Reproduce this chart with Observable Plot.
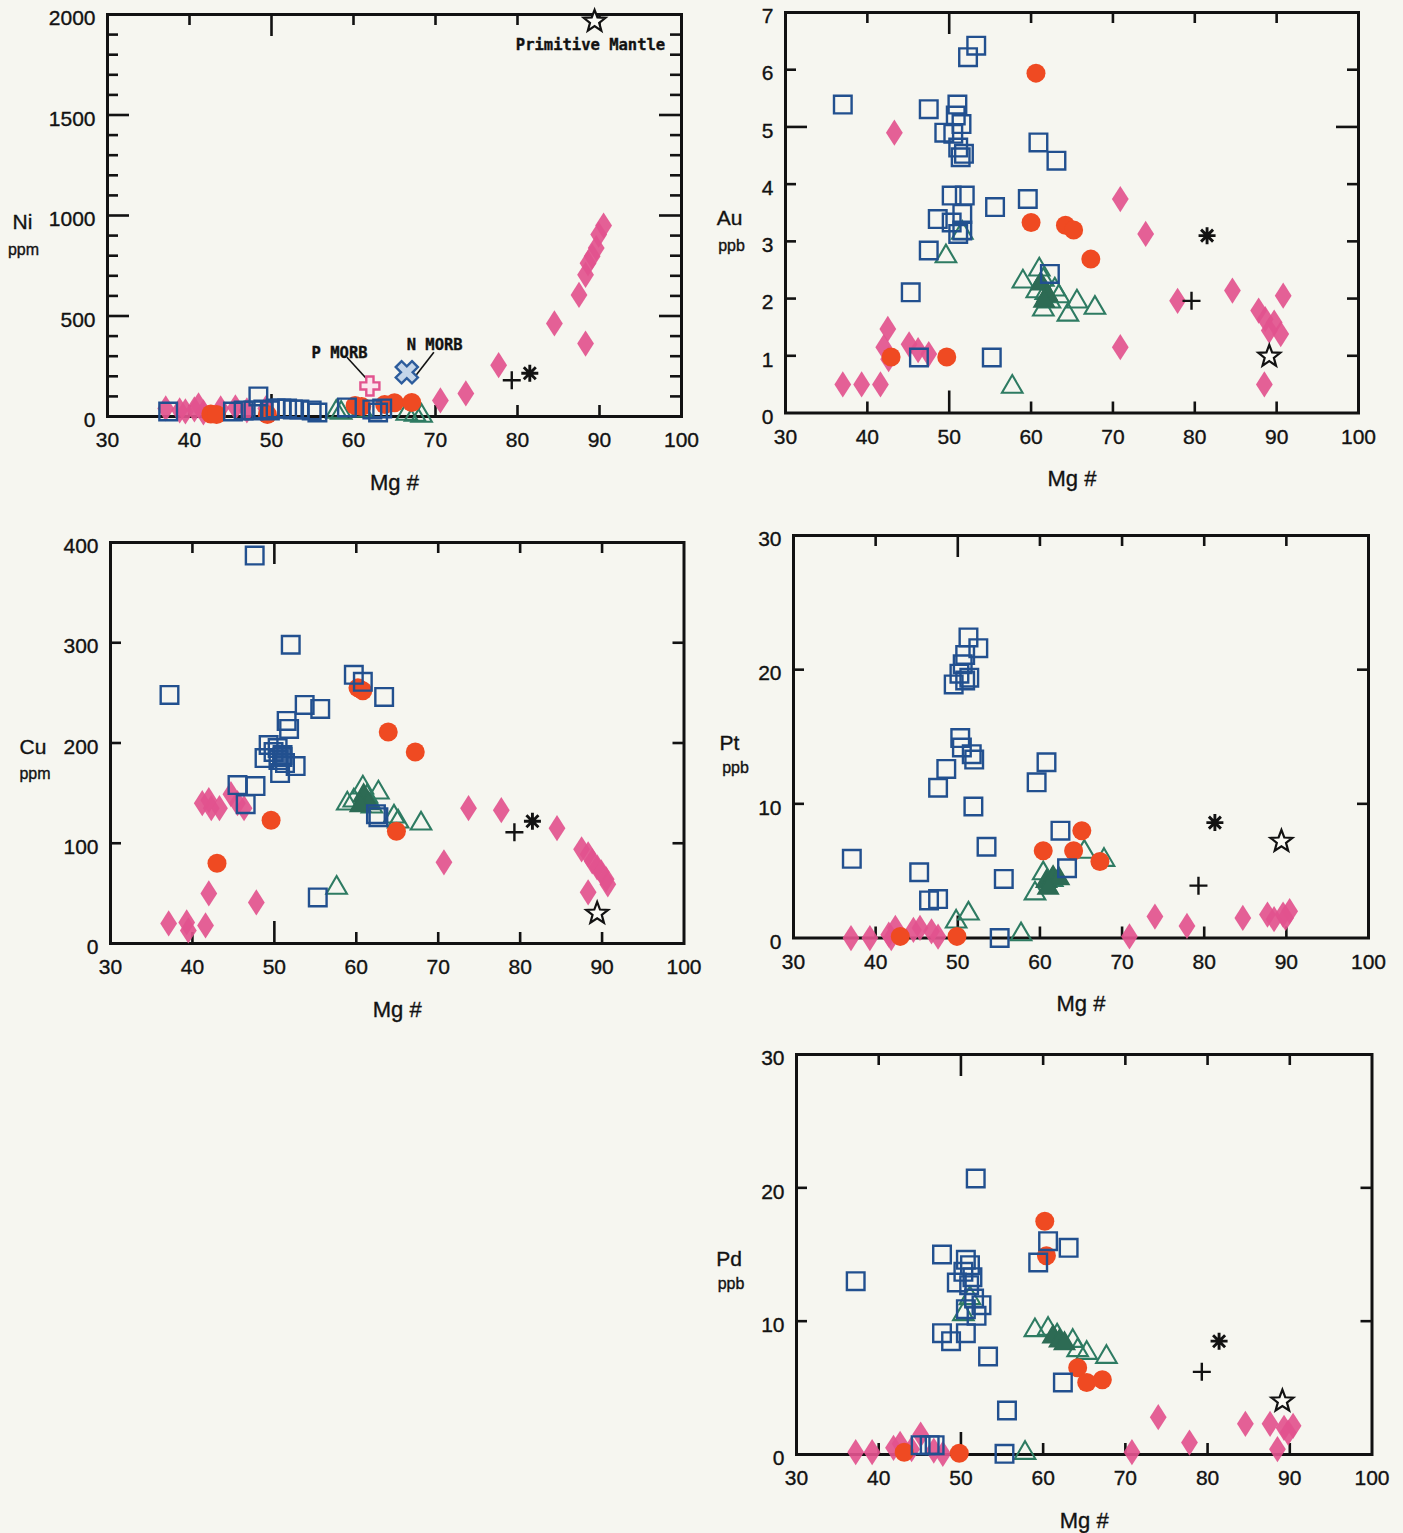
<!DOCTYPE html>
<html><head><meta charset="utf-8">
<script src="https://cdn.jsdelivr.net/npm/d3@7"></script>
<script src="https://cdn.jsdelivr.net/npm/@observablehq/plot@0.6"></script>
<style>
html,body{margin:0;padding:0}
body{background:#f6f6f0;width:1403px;height:1533px;position:relative;overflow:hidden;font-family:"Liberation Sans",Arial,sans-serif}
.panel{position:absolute}
.panel svg text{paint-order:stroke;stroke:#121212;stroke-width:0.35px}
</style></head>
<body>
<script>
// ---------- DATA (Mg#, value) ----------
const xTickLabels = [30, 40, 50, 60, 70, 80, 90, 100];

// Ni (ppm)
const niDiamond = [[37.1,40],[38.8,30],[39.5,25],[40.6,35],[41.1,55],[41.7,20],[43.8,40],[45.6,45],[47.0,30],[49.3,40],[70.6,80],[73.7,115],[77.7,255],[84.5,463],[87.5,605],[88.3,705],[88.3,363],[88.6,763],[89.1,797],[89.6,838],[89.9,905],[90.5,950]];
const niCircle = [[42.6,12],[43.3,10],[49.5,10],[60.2,55],[61.0,50],[63.8,60],[65.0,68],[67.1,70]];
const niSquare = [[37.4,25],[45.3,25],[46.6,30],[47.8,30],[48.4,100],[49.0,35],[49.8,30],[50.5,40],[51.2,40],[51.9,40],[52.6,35],[53.4,35],[54.9,30],[55.6,20],[59.2,45],[62.3,35],[63.0,20],[63.5,40]];
const niTriangle = [[57.9,35],[58.5,30],[61.0,40],[66.5,25],[67.5,20],[68.3,15]];
const niTriFilled = [];
const niPlus = [[79.3,180]];
const niAsterisk = [[81.5,215]];
const niStar = [[89.4,1966]];
const niPMorb = [[62.0,152]];
const niNMorb = [[66.5,220]];
const niNotes = [{text:"Primitive Mantle", mg:88.9, v:1850},{text:"P MORB", mg:58.3, v:318},{text:"N MORB", mg:69.9, v:356}];
const niLeaders = [{mg1:59.2, v1:295, mg2:61.7, v2:183},{mg1:69.8, v1:320, mg2:67.6, v2:204}];

// Au (ppb)
const auDiamond = [[43.3,4.9],[37.0,0.5],[39.3,0.5],[41.6,0.5],[42.5,1.47],[42.0,1.15],[42.6,0.94],[45.1,1.2],[46.2,1.1],[47.5,1.03],[70.9,3.74],[74.0,3.13],[70.9,1.15],[77.9,1.96],[84.6,2.14],[87.8,1.79],[88.6,1.64],[89.7,1.58],[90.8,2.05],[90.5,1.38],[89.1,1.44],[88.5,0.5]];
const auCircle = [[60.6,5.94],[60.0,3.33],[64.2,3.28],[65.2,3.2],[67.3,2.69],[42.9,0.98],[49.7,0.98]];
const auSquare = [[37.0,5.39],[47.5,5.31],[52.3,6.22],[53.3,6.42],[51.0,5.39],[50.8,5.2],[49.4,4.9],[50.5,4.88],[51.5,5.05],[51.1,4.64],[51.4,4.47],[51.8,4.53],[60.9,4.73],[63.1,4.41],[50.3,3.8],[51.9,3.8],[51.6,3.48],[50.3,3.33],[51.6,3.19],[51.1,3.13],[48.6,3.39],[47.5,2.84],[55.6,3.6],[59.6,3.74],[62.3,2.43],[45.3,2.11],[46.3,0.97],[55.2,0.97]];
const auTriangle = [[49.6,2.78],[51.6,3.19],[57.7,0.5],[59.0,2.34],[61.0,2.55],[61.5,2.37],[60.7,2.17],[61.8,2.14],[62.3,1.99],[61.5,1.85],[63.4,2.08],[65.6,1.99],[64.5,1.76],[67.8,1.88],[62.9,2.2]];
const auTriFilled = [[61.2,2.3],[62.0,2.1],[61.6,2.0]];
const auPlus = [[79.6,1.96]];
const auAsterisk = [[81.5,3.1]];
const auStar = [[89.1,0.99]];

// Cu (ppm)
const cuDiamond = [[41.2,140],[42.3,135],[43.3,135],[42.0,143],[44.7,149],[45.5,140],[46.3,135],[42.0,50],[47.8,41],[37.1,20],[39.3,21],[39.5,13],[41.6,18],[70.7,81],[73.7,135],[77.7,133],[84.5,115],[87.5,94],[88.3,89],[88.8,82],[89.4,76],[89.9,71],[90.5,64],[90.7,59],[88.3,51]];
const cuCircle = [[60.2,255],[60.8,252],[63.9,211],[67.2,191],[49.6,123],[64.9,112],[43.0,80]];
const cuSquare = [[47.6,387],[52.0,298],[37.2,248],[59.7,268],[60.8,261],[63.4,246],[53.7,238],[55.6,234],[51.5,222],[51.8,214],[49.3,198],[50.4,195],[48.8,185],[51.0,188],[52.6,177],[50.7,170],[49.9,191],[50.5,183],[51.3,180],[45.5,158],[47.7,157],[46.5,139],[62.4,129],[62.7,126],[55.3,46]];
const cuSquareFilled = [[51.0,186]];
const cuTriangle = [[60.8,158],[59.7,145],[61.3,149],[62.7,153],[61.9,139],[64.6,129],[65.1,124],[67.9,122],[58.9,142],[57.6,58]];
const cuTriFilled = [[60.9,150],[61.5,142],[60.5,140]];
const cuPlus = [[79.3,111]];
const cuAsterisk = [[81.5,122]];
const cuStar = [[89.4,30]];

// Pt (ppb)
const ptDiamond = [[37.0,0],[39.3,0],[41.6,0.25],[42.4,0.75],[44.6,0.6],[46.8,0.5],[45.4,0.75],[47.6,0.1],[41.9,0],[70.9,0.12],[74.0,1.6],[77.9,0.9],[84.7,1.5],[87.7,1.75],[88.5,1.4],[89.6,1.75],[90.4,2.0],[89.9,1.5]];
const ptCircle = [[60.4,6.5],[64.1,6.5],[65.1,8.0],[67.3,5.7],[43.0,0.12],[49.9,0.12]];
const ptSquare = [[51.3,22.4],[52.5,21.6],[50.9,21.1],[50.6,20.4],[50.2,19.7],[50.9,19.2],[49.5,18.9],[51.4,19.4],[50.3,14.9],[50.5,14.2],[51.7,13.7],[52.0,13.3],[48.6,12.6],[47.6,11.2],[51.9,9.8],[53.5,6.8],[37.1,5.9],[45.3,4.9],[46.5,2.8],[47.6,2.9],[55.6,4.4],[55.1,0.0],[59.6,11.6],[60.8,13.1],[62.5,8.0],[63.3,5.2]];
const ptTriangle = [[59.4,3.5],[60.4,5.0],[65.4,6.6],[67.8,6.0],[51.3,2.0],[49.8,1.4],[57.7,0.45],[61.5,4.5]];
const ptTriFilled = [[60.8,4.4],[61.6,4.7],[62.3,4.6],[61.0,3.9]];
const ptPlus = [[79.3,3.9]];
const ptAsterisk = [[81.3,8.6]];
const ptStar = [[89.4,7.2]];

// Pd (ppb)
const pdDiamond = [[37.2,0.17],[39.2,0.17],[41.8,0.5],[42.6,0.8],[45.1,1.5],[44.0,0.4],[47.8,0.05],[46.7,0.3],[70.8,0.17],[74.0,2.8],[77.8,0.9],[84.6,2.3],[87.6,2.3],[88.5,0.4],[89.3,2.0],[90.4,2.15],[89.8,1.65]];
const pdCircle = [[60.2,17.5],[60.4,14.9],[64.2,6.5],[65.3,5.4],[67.2,5.6],[43.1,0.17],[49.8,0.1]];
const pdSquare = [[51.8,20.7],[37.2,13.0],[47.7,15.0],[50.6,14.6],[51.1,14.2],[50.3,13.7],[51.4,13.3],[49.5,12.9],[51.0,12.7],[51.6,11.7],[52.5,11.2],[51.9,10.4],[50.6,10.9],[47.7,9.1],[48.8,8.5],[50.6,9.1],[53.3,7.35],[59.4,14.4],[60.6,16.0],[63.1,15.5],[62.4,5.4],[55.6,3.3],[45.1,0.7],[46.2,0.7],[46.8,0.7],[55.3,0.05]];
const pdTriangle = [[59.0,9.5],[60.6,9.6],[61.7,9.1],[63.6,8.7],[64.2,8.0],[65.3,7.8],[67.7,7.5],[51.1,11.9],[50.3,10.7],[57.8,0.3]];
const pdTriFilled = [[61.2,9.0],[62.0,8.7],[62.6,8.5]];
const pdPlus = [[79.3,6.2]];
const pdAsterisk = [[81.4,8.5]];
const pdStar = [[89.1,4.0]];

// ---------- STYLE / LAYOUT ----------
const C = {pink:"#e2538e", red:"#ef4a22", blue:"#22508f", green:"#2e7b62", dgreen:"#2d6b54", ink:"#121212", bg:"#f6f6f0"};
const FONT = '"Liberation Sans", Arial, sans-serif';
const MONO = '"DejaVu Sans Mono", "Liberation Mono", monospace';

const sym = {
  diamond: {draw(c, s){const r=Math.sqrt(s/Math.PI); c.moveTo(0,-1.25*r); c.lineTo(0.8*r,0); c.lineTo(0,1.25*r); c.lineTo(-0.8*r,0); c.closePath();}},
  square: {draw(c, s){const r=Math.sqrt(s/Math.PI); c.moveTo(-r,-r); c.lineTo(r,-r); c.lineTo(r,r); c.lineTo(-r,r); c.closePath();}},
  triangle: {draw(c, s){const r=Math.sqrt(s/Math.PI); c.moveTo(0,-0.95*r); c.lineTo(1.05*r,0.85*r); c.lineTo(-1.05*r,0.85*r); c.closePath();}},
  star: {draw(c, s){const r=Math.sqrt(s/Math.PI); for(let k=0;k<10;k++){const a=-Math.PI/2+k*Math.PI/5, rr=k%2?0.42*r:r; const px=rr*Math.cos(a), py=rr*Math.sin(a); k?c.lineTo(px,py):c.moveTo(px,py);} c.closePath();}},
  plus: {draw(c, s){const r=Math.sqrt(s/Math.PI); c.moveTo(-r,0); c.lineTo(r,0); c.moveTo(0,-r); c.lineTo(0,r);}},
  asterisk: {draw(c, s){const r=Math.sqrt(s/Math.PI); for(let k=0;k<4;k++){const a=k*Math.PI/4; c.moveTo(-r*Math.cos(a),-r*Math.sin(a)); c.lineTo(r*Math.cos(a),r*Math.sin(a));}}},
  cross: {draw(c, s){const r=Math.sqrt(s/Math.PI), a=0.38*r; const p=[[-a,-r],[a,-r],[a,-a],[r,-a],[r,a],[a,a],[a,r],[-a,r],[-a,a],[-r,a],[-r,-a],[-a,-a]]; p.forEach((q,i)=>i?c.lineTo(q[0],q[1]):c.moveTo(q[0],q[1])); c.closePath();}},
  xcross: {draw(c, s){const r=Math.sqrt(s/Math.PI), a=0.36*r, k=Math.SQRT1_2; const p=[[-a,-r],[a,-r],[a,-a],[r,-a],[r,a],[a,a],[a,r],[-a,r],[-a,a],[-r,a],[-r,-a],[-a,-a]].map(([x,y])=>[(x-y)*k,(x+y)*k]); p.forEach((q,i)=>i?c.lineTo(q[0],q[1]):c.moveTo(q[0],q[1])); c.closePath();}}
};

const panels = [
  {label:"Ni", unit:"ppm", frame:{l:107,r:681,t:14,b:416}, yDomain:[0,2000], yLabels:[0,500,1000,1500,2000],
   yShort:d3.range(100,2000,100).filter(v=>v%500), yLong:[500,1000,1500], lab:{dx:-85,dy:208}, unitPos:{dx:-84,dy:235},
   series:{diamond:niDiamond,circle:niCircle,square:niSquare,squareFilled:[],triangle:niTriangle,triFilled:niTriFilled,plus:niPlus,asterisk:niAsterisk,star:niStar}, extra:"ni"},
  {label:"Au", unit:"ppb", frame:{l:785,r:1358,t:12,b:412.5}, yDomain:[0,7], yLabels:[0,1,2,3,4,5,6,7],
   yShort:[1,2,3,4,6], yLong:[5], lab:{dx:-56,dy:206}, unitPos:{dx:-54,dy:233},
   series:{diamond:auDiamond,circle:auCircle,square:auSquare,squareFilled:[],triangle:auTriangle,triFilled:auTriFilled,plus:auPlus,asterisk:auAsterisk,star:auStar}},
  {label:"Cu", unit:"ppm", frame:{l:109.5,r:683,t:542,b:943}, yDomain:[0,400], yLabels:[0,100,200,300,400],
   yShort:[100,200,300], yLong:[], lab:{dx:-77.5,dy:205}, unitPos:{dx:-75.5,dy:231},
   series:{diamond:cuDiamond,circle:cuCircle,square:cuSquare,squareFilled:cuSquareFilled,triangle:cuTriangle,triFilled:cuTriFilled,plus:cuPlus,asterisk:cuAsterisk,star:cuStar}},
  {label:"Pt", unit:"ppb", frame:{l:793,r:1368,t:534.5,b:937}, yDomain:[0,30], yLabels:[0,10,20,30],
   yShort:[10,20], yLong:[], lab:{dx:-64,dy:207.5}, unitPos:{dx:-58,dy:232.5},
   series:{diamond:ptDiamond,circle:ptCircle,square:ptSquare,squareFilled:[],triangle:ptTriangle,triFilled:ptTriFilled,plus:ptPlus,asterisk:ptAsterisk,star:ptStar}},
  {label:"Pd", unit:"ppb", frame:{l:795.5,r:1371,t:1054,b:1454}, yDomain:[0,30], yLabels:[0,10,20,30],
   yShort:[10,20], yLong:[], lab:{dx:-67.5,dy:205}, unitPos:{dx:-65.5,dy:229},
   series:{diamond:pdDiamond,circle:pdCircle,square:pdSquare,squareFilled:[],triangle:pdTriangle,triFilled:pdTriFilled,plus:pdPlus,asterisk:pdAsterisk,star:pdStar}}
];

const ML = 110, MR = 20, MT = 18, MB = 88;
const X = d => d[0], Y = d => d[1];
const xShort = [40,60,70,80,90], xLong = [50];

for (const p of panels) {
  const W = p.frame.r - p.frame.l, H = p.frame.b - p.frame.t;
  const tk = {stroke: C.ink, strokeWidth: 2.6};
  const s = p.series;
  const marks = [
    Plot.axisX({ticks: xTickLabels, tickSize: 0, tickPadding: 16, label: null, tickFormat: d => String(d), fontSize: 21, fill: C.ink}),
    Plot.axisY({ticks: p.yLabels, tickSize: 0, tickPadding: 12, label: null, tickFormat: d => String(d), fontSize: 21, fill: C.ink, dy: 4}),
    // inner ticks
    Plot.tickY(p.yShort, {y: d => d, insetRight: W - 11, ...tk}),
    Plot.tickY(p.yShort, {y: d => d, insetLeft: W - 11, ...tk}),
    Plot.tickY(p.yLong, {y: d => d, insetRight: W - 22, ...tk}),
    Plot.tickY(p.yLong, {y: d => d, insetLeft: W - 22, ...tk}),
    Plot.tickX(xShort, {x: d => d, insetBottom: H - 11, ...tk}),
    Plot.tickX(xShort, {x: d => d, insetTop: H - 11, ...tk}),
    Plot.tickX(xLong, {x: d => d, insetBottom: H - 22, ...tk}),
    Plot.tickX(xLong, {x: d => d, insetTop: H - 22, ...tk}),
    Plot.frame({stroke: C.ink, strokeWidth: 3}),
    // labels
    Plot.text(["Mg #"], {frameAnchor: "bottom", dy: 66, lineAnchor: "middle", text: d => d, fontSize: 22, fill: C.ink}),
    Plot.text([p.label], {frameAnchor: "top-left", dx: p.lab.dx, dy: p.lab.dy, lineAnchor: "middle", text: d => d, fontSize: 21, fill: C.ink, textAnchor: "middle"}),
    Plot.text([p.unit], {frameAnchor: "top-left", dx: p.unitPos.dx, dy: p.unitPos.dy, lineAnchor: "middle", text: d => d, fontSize: 16, fill: C.ink, textAnchor: "middle"}),
    // data
    Plot.dot(s.diamond, {x: X, y: Y, symbol: sym.diamond, r: 10.5, fill: C.pink, fillOpacity: 0.92, stroke: "none"}),
    Plot.dot(s.triangle, {x: X, y: Y, symbol: sym.triangle, r: 9.8, fill: "none", stroke: C.green, strokeWidth: 2.1}),
    Plot.dot(s.triFilled, {x: X, y: Y, symbol: sym.triangle, r: 9.8, fill: C.dgreen, stroke: C.dgreen, strokeWidth: 1.5}),
    Plot.dot(s.circle, {x: X, y: Y, r: 9.5, fill: C.red, stroke: "none"}),
    Plot.dot(s.square, {x: X, y: Y, symbol: sym.square, r: 8.8, fill: "none", stroke: C.blue, strokeWidth: 2.4}),
    Plot.dot(s.squareFilled, {x: X, y: Y, symbol: sym.square, r: 8.8, fill: C.blue, fillOpacity: 0.85, stroke: C.blue, strokeWidth: 2.4}),
    Plot.dot(s.plus, {x: X, y: Y, symbol: sym.plus, r: 9, fill: "none", stroke: C.ink, strokeWidth: 2.4}),
    Plot.dot(s.asterisk, {x: X, y: Y, symbol: sym.asterisk, r: 8.5, fill: "none", stroke: C.ink, strokeWidth: 2.9}),
    Plot.dot(s.star, {x: X, y: Y, symbol: sym.star, r: 11.5, fill: "#fbfbf6", stroke: C.ink, strokeWidth: 2.2, strokeLinejoin: "miter"})
  ];
  if (p.extra === "ni") {
    marks.push(
      Plot.link(niLeaders, {x1: "mg1", y1: "v1", x2: "mg2", y2: "v2", stroke: C.ink, strokeWidth: 1.6}),
      Plot.dot(niPMorb, {x: X, y: Y, symbol: sym.cross, r: 9.5, fill: "#fbe6ee", stroke: C.pink, strokeWidth: 2.4}),
      Plot.dot(niNMorb, {x: X, y: Y, symbol: sym.xcross, r: 11.5, fill: "#c5d6e9", stroke: "#2c5c9c", strokeWidth: 2.4}),
      Plot.text(niNotes, {x: "mg", y: "v", text: "text", fontFamily: MONO, fontWeight: "bold", fontSize: 15.5, fill: C.ink})
    );
  }
  const svg = Plot.plot({
    width: ML + W + MR, height: MT + H + MB,
    marginLeft: ML, marginRight: MR, marginTop: MT, marginBottom: MB,
    x: {domain: [30, 100]},
    y: {domain: p.yDomain},
    style: {background: "transparent", maxWidth: "none", overflow: "visible", fontFamily: FONT, fontSize: "20px", color: C.ink},
    marks
  });
  const div = document.createElement("div");
  div.className = "panel";
  div.style.left = (p.frame.l - ML) + "px";
  div.style.top = (p.frame.t - MT) + "px";
  div.style.width = (ML + W + MR) + "px";
  div.appendChild(svg);
  document.body.appendChild(div);
}
</script>
</body></html>
